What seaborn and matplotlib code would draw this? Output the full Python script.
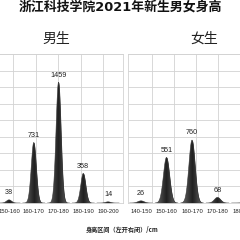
import numpy as np
import pandas as pd
import matplotlib
matplotlib.use("Agg")
import matplotlib.pyplot as plt
import seaborn as sns
from matplotlib.colors import LinearSegmentedColormap

# data
male_bins = ["150-160", "160-170", "170-180", "180-190", "190-200"]
male_counts = [38, 731, 1459, 358, 14]
female_bins = ["140-150", "150-160", "160-170", "170-180", "180-190"]
female_counts = [26, 551, 760, 68, 2]

title = "浙江科技学院2021年新生男女身高"
xlabel = "身高区间（左开右闭）/cm"

sns.set_style("white")
cjk = ["Noto Sans CJK SC", "DejaVu Sans"]
plt.rcParams["font.family"] = cjk

fig = plt.figure(figsize=(2.4, 2.4), dpi=100)
fig.patch.set_facecolor("white")

# panels run past the figure edges like in the original crop
ax_m = fig.add_axes([-4.6 / 240, 37 / 240, 127.5 / 240, 149 / 240])
ax_f = fig.add_axes([128 / 240, 37 / 240, 127.0 / 240, 149 / 240])

shade = LinearSegmentedColormap.from_list("shade", ["#6e6e6e", "#202020", "#6e6e6e"])


def peak_frame(counts, sigma):
    rows = []
    for i, v in enumerate(counts):
        dx = np.linspace(-0.45, 0.45, 121)
        y = v * np.exp(-0.5 * (dx / sigma) ** 2)
        rows.append(pd.DataFrame({"x": i + dx, "y": y, "bin": i}))
    return pd.concat(rows, ignore_index=True)


def draw_panel(ax, bins, counts, sigma, xlim, grid_x):
    ax.set_xlim(*xlim)
    ax.set_ylim(0, 1800)
    df = peak_frame(counts, sigma)
    sns.lineplot(ax=ax, data=df, x="x", y="y", units="bin", estimator=None,
                 color="#3a3a3a", linewidth=0.4, legend=False, zorder=3)
    for i, v in enumerate(counts):
        sub = df[df["bin"] == i]
        poly = ax.fill_between(sub["x"], 0, sub["y"], color="#333333",
                               linewidth=0, zorder=2)
        grad = np.linspace(0, 1, 64).reshape(1, -1)
        im = ax.imshow(grad, extent=[i - 0.45, i + 0.45, 0, max(v, 1)],
                       aspect="auto", cmap=shade, zorder=2.5)
        im.set_clip_path(poly.get_paths()[0], transform=ax.transData)
        # the original crop hides the count of a bin sitting past the edge
        px = ax.transData.transform((i, 0))[0]
        if px < 238:
            ax.text(i, v + 45, str(v), ha="center", va="bottom",
                    fontsize=5.2, color="#222222", family="Liberation Sans")

    ax.set_xlim(*xlim)
    ax.set_ylim(0, 1800)
    ax.set_xticks(range(len(bins)))
    ax.set_xticklabels(bins, fontsize=4.2, family="Liberation Sans", color="#222222")
    ax.set_yticks(np.arange(0, 1801, 200))
    ax.set_yticklabels([])
    ax.tick_params(axis="both", which="both", length=0, pad=4)
    ax.grid(False)
    for gx in grid_x:
        ax.axvline(gx, color="#d2d2d2", linewidth=0.6, zorder=0)
    for gy in np.arange(0, 1801, 200):
        ax.axhline(gy, color="#d2d2d2", linewidth=0.6, zorder=0)
    for s in ax.spines.values():
        s.set_color("#d2d2d2")
        s.set_linewidth(0.6)
    ax.set_xlabel("")
    ax.set_ylabel("")


draw_panel(ax_m, male_bins, male_counts, 0.1, (-0.55, 4.6),
           np.arange(0.16, 4.5, 0.91))
draw_panel(ax_f, female_bins, female_counts, 0.12, (-0.51, 4.47),
           np.arange(0.43, 4.4, 0.86))

fig.text(0.5, 1 - 7.5 / 240, title, ha="center", va="center", fontsize=9.3,
         fontweight="bold", color="#111111", family=["DejaVu Sans", "Noto Sans CJK SC"])
fig.text(56 / 240, 1 - 39 / 240, "男生", ha="center", va="center",
         fontsize=10, color="#222222")
fig.text(204 / 240, 1 - 39 / 240, "女生", ha="center", va="center",
         fontsize=10, color="#222222")
fig.text(122 / 240, 1 - 229.5 / 240, xlabel, ha="center", va="center",
         fontsize=4.4, fontweight="bold", color="#222222")

fig.savefig("out.png", dpi=100, facecolor="white")
